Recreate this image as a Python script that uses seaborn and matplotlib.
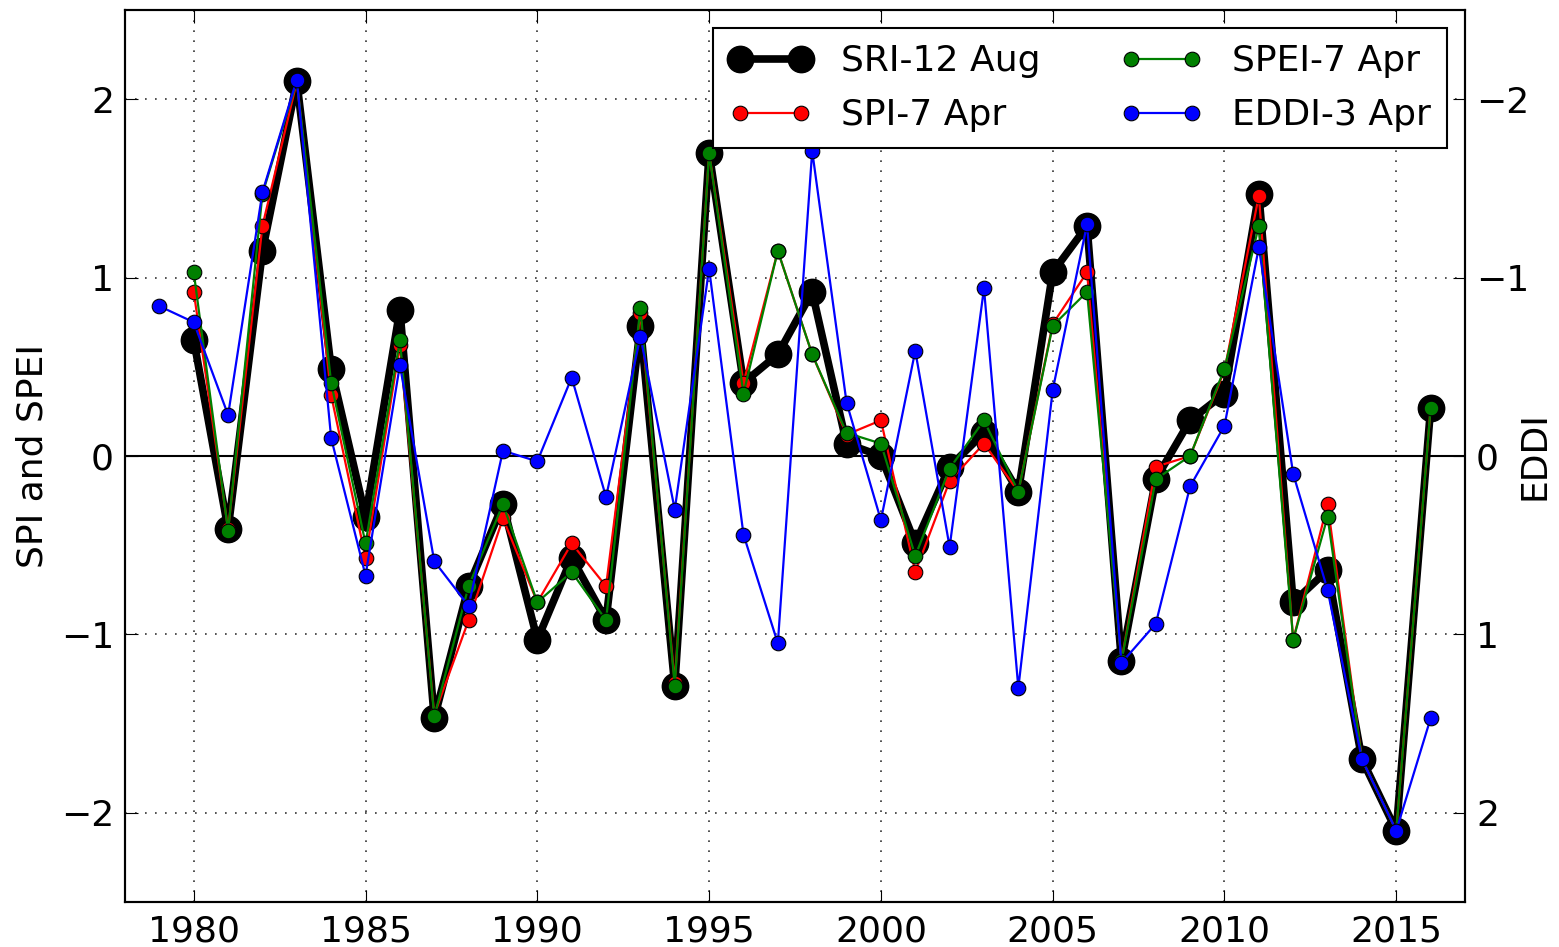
import numpy as np
import pandas as pd
import matplotlib
matplotlib.use("Agg")
import matplotlib.pyplot as plt
import seaborn as sns

# ---------------------------------------------------------------------------
# Data
# ---------------------------------------------------------------------------
years = list(range(1980, 2017))
eddi_years = list(range(1979, 2017))

sri_12_aug = [0.65, -0.41, 1.15, 2.10, 0.49, -0.34, 0.82, -1.47, -0.73, -0.27,
              -1.03, -0.57, -0.92, 0.73, -1.29, 1.70, 0.41, 0.57, 0.92, 0.07,
              0.00, -0.49, -0.06, 0.13, -0.20, 1.03, 1.29, -1.15, -0.13, 0.20,
              0.35, 1.47, -0.82, -0.64, -1.70, -2.10, 0.27]

spi_7_apr = [0.92, -0.41, 1.29, 2.10, 0.34, -0.57, 0.62, -1.45, -0.92, -0.35,
             -0.82, -0.49, -0.73, 0.80, -1.27, 1.70, 0.41, 1.15, 0.57, 0.12,
             0.20, -0.65, -0.14, 0.07, -0.20, 0.74, 1.03, -1.15, -0.06, 0.00,
             0.48, 1.46, -1.03, -0.27, -1.70, -2.10, 0.27]

spei_7_apr = [1.03, -0.42, 1.47, 2.10, 0.41, -0.49, 0.65, -1.46, -0.73, -0.27,
              -0.82, -0.65, -0.92, 0.83, -1.29, 1.70, 0.35, 1.15, 0.57, 0.13,
              0.07, -0.56, -0.07, 0.20, -0.20, 0.73, 0.92, -1.15, -0.13, 0.00,
              0.49, 1.29, -1.03, -0.34, -1.70, -2.10, 0.27]

# EDDI on its own (inverted) right-hand axis
eddi_3_apr = [-0.84, -0.75, -0.23, -1.48, -2.11, -0.10, 0.67, -0.51, 0.59, 0.84,
              -0.03, 0.03, -0.44, 0.23, -0.67, 0.30, -1.05, 0.44, 1.05, -1.71,
              -0.30, 0.36, -0.59, 0.51, -0.94, 1.30, -0.37, -1.30, 1.16, 0.94,
              0.17, -0.17, -1.17, 0.10, 0.75, 1.70, 2.10, 1.47]

labels = ["SRI-12 Aug", "SPI-7 Apr", "SPEI-7 Apr", "EDDI-3 Apr"]
x_ticks = [1980, 1985, 1990, 1995, 2000, 2005, 2010, 2015]
y_ticks = [-2, -1, 0, 1, 2]
y_tick_labels = ["\u22122", "\u22121", "0", "1", "2"]

# ---------------------------------------------------------------------------
# Style (old-matplotlib "classic" look)
# ---------------------------------------------------------------------------
sns.set_style("ticks")
FS = 26
plt.rcParams.update({
    "font.family": ["DejaVu Sans"],
    "font.size": FS,
    "text.color": "black",
    "axes.labelcolor": "black",
    "axes.linewidth": 1.5,
    "axes.edgecolor": "black",
    "xtick.direction": "in",
    "ytick.direction": "in",
    "xtick.major.size": 9,
    "ytick.major.size": 9,
    "xtick.major.pad": 9,
    "ytick.major.pad": 8,
    "xtick.color": "black",
    "ytick.color": "black",
})

fig = plt.figure(figsize=(15.59, 9.47), dpi=100)
ax = fig.add_axes([0.0802, 0.0475, 0.8595, 0.9419])

ax.axhline(0, color="black", linewidth=1.5, zorder=1)

sns.lineplot(x=years, y=sri_12_aug, ax=ax, color="black", linewidth=5.5,
             marker="o", markersize=19, markeredgecolor="black",
             markeredgewidth=1, legend=False, zorder=2)
h_sri = ax.lines[-1]
sns.lineplot(x=years, y=spi_7_apr, ax=ax, color="red", linewidth=1.6,
             marker="o", markersize=10.5, markeredgecolor="black",
             markeredgewidth=0.8, legend=False, zorder=3)
h_spi = ax.lines[-1]
sns.lineplot(x=years, y=spei_7_apr, ax=ax, color="green", linewidth=1.6,
             marker="o", markersize=10.5, markeredgecolor="black",
             markeredgewidth=0.8, legend=False, zorder=4)
h_spei = ax.lines[-1]

ax.set_xlim(1978, 2017)
ax.set_ylim(-2.5, 2.5)
ax.set_xticks(x_ticks)
ax.set_yticks(y_ticks)
ax.set_yticklabels(y_tick_labels)
ax.tick_params(top=True, labelsize=FS)
ax.grid(True, color="#333333", linestyle=(0, (1, 5)), linewidth=1.2)
ax.set_ylabel("SPI and SPEI", fontsize=FS)
ax.yaxis.set_label_coords(-0.069, 0.5)
ax.yaxis.label.set_verticalalignment("center")
ax.yaxis.label.set_horizontalalignment("center")

ax2 = ax.twinx()
sns.lineplot(x=eddi_years, y=eddi_3_apr, ax=ax2, color="blue", linewidth=1.6,
             marker="o", markersize=10.5, markeredgecolor="black",
             markeredgewidth=0.8, legend=False)
h_eddi = ax2.lines[-1]
ax2.set_ylim(2.5, -2.5)
ax2.set_yticks(y_ticks)
ax2.set_yticklabels(y_tick_labels)
ax2.tick_params(labelsize=FS, direction="in", length=9, pad=8)
ax2.set_ylabel("EDDI", fontsize=FS)
ax2.yaxis.set_label_coords(1.0515, 0.5)
ax2.yaxis.label.set_verticalalignment("center")
ax2.yaxis.label.set_horizontalalignment("center")
ax2.set_xlim(1978, 2017)

leg = ax2.legend([h_sri, h_spi, h_spei, h_eddi], labels, loc="upper right",
                 ncol=2, numpoints=2, fontsize=FS, fancybox=False,
                 framealpha=1, edgecolor="black", borderaxespad=0.5,
                 handlelength=2.3, handletextpad=0.8, columnspacing=2.2,
                 labelspacing=0.55, borderpad=0.45)
leg.get_frame().set_linewidth(1.5)

fig.savefig("out.png", dpi=100)
